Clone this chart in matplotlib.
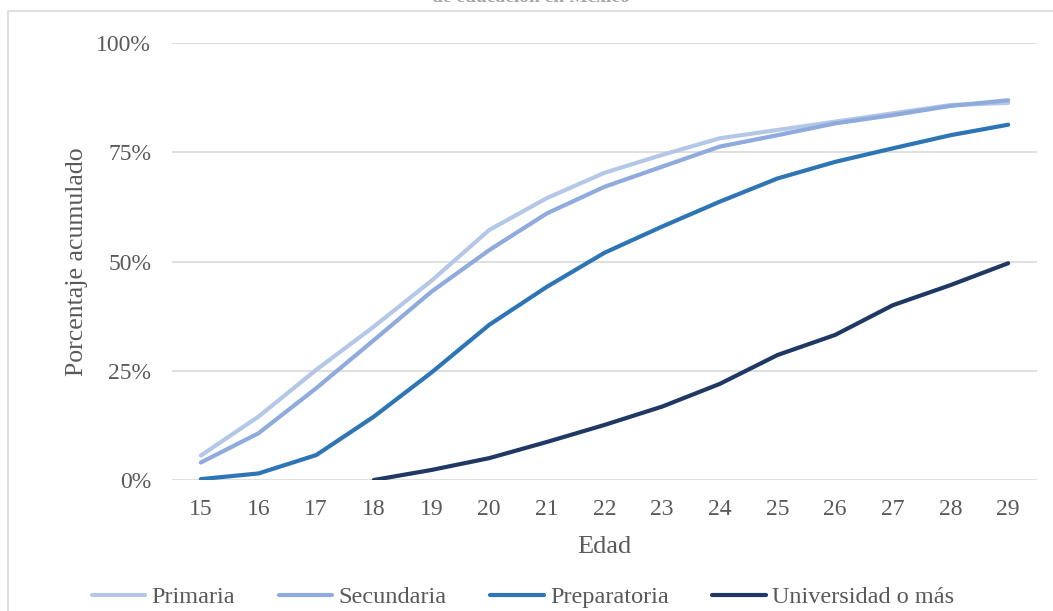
import matplotlib
matplotlib.use("Agg")
import matplotlib.pyplot as plt
from matplotlib.patches import Rectangle
from matplotlib.ticker import FuncFormatter

# Cumulative share (%) by age and education level
edades = list(range(15, 30))
primaria = [5.6, 14.5, 25.2, 35.1, 45.6, 57.2, 64.5, 70.3, 74.4, 78.2, 80.1, 82.0, 83.9, 85.8, 86.3]
secundaria = [4.0, 10.7, 21.0, 32.0, 43.1, 52.6, 61.0, 67.1, 71.7, 76.3, 78.9, 81.6, 83.5, 85.6, 86.9]
preparatoria = [0.2, 1.5, 5.7, 14.5, 24.6, 35.5, 44.2, 52.0, 58.0, 63.7, 69.0, 72.8, 75.9, 78.9, 81.3]
edades_univ = list(range(18, 30))
universidad = [0.0, 2.3, 5.0, 8.7, 12.6, 16.8, 22.0, 28.6, 33.2, 40.0, 44.6, 49.6]

series = [
    ("Primaria", edades, primaria, "#B4C7E7"),
    ("Secundaria", edades, secundaria, "#8FAADC"),
    ("Preparatoria", edades, preparatoria, "#2E75B6"),
    ("Universidad o más", edades_univ, universidad, "#1F3864"),
]

plt.rcParams["font.family"] = ["Liberation Serif", "DejaVu Serif"]
W, H = 1053, 611
fig = plt.figure(figsize=(W / 100, H / 100), dpi=100)

# chart border
fig.patches.append(Rectangle((8 / W, -0.05), 1.2, 1 - 11 / H + 0.05,
                             transform=fig.transFigure, fill=False,
                             edgecolor="#D9D9D9", linewidth=1.2))

fig.text(531 / W, 1 - 1.6 / H, "de educación en México", ha="center",
         va="baseline", fontsize=14, fontweight="bold", color="#A6A6A6")

ax = fig.add_axes([172 / W, 1 - 480 / H, (1037 - 172) / W, (480 - 43) / H])
for name, x, y, c in series:
    ax.plot(x, y, color=c, lw=3.0, label=name, solid_capstyle="round")

ax.set_xlim(14.5, 29.5)
ax.set_ylim(0, 100)
ax.set_xticks(edades)
ax.set_yticks([0, 25, 50, 75, 100])
ax.yaxis.set_major_formatter(FuncFormatter(lambda v, p: f"{v:.0f}%"))
ax.grid(axis="y", color="#D9D9D9", lw=1.2)
ax.set_axisbelow(True)
for s in ax.spines.values():
    s.set_visible(False)
ax.tick_params(length=0, labelsize=17, colors="#595959")
ax.tick_params(axis="x", pad=14)
ax.tick_params(axis="y", pad=15)

ax.set_xlabel("Edad", fontsize=19, color="#595959", labelpad=11)
ax.set_ylabel("Porcentaje acumulado", fontsize=18.5, color="#595959", labelpad=6)

leg = fig.legend(loc="center", bbox_to_anchor=(523 / W, 1 - 597 / H), ncol=4,
                 frameon=False, fontsize=17.5, handlelength=2.2,
                 columnspacing=1.8, handletextpad=0.25,
                 borderaxespad=0, borderpad=0)
for t in leg.get_texts():
    t.set_color("#595959")

fig.savefig("out.png", dpi=100)
